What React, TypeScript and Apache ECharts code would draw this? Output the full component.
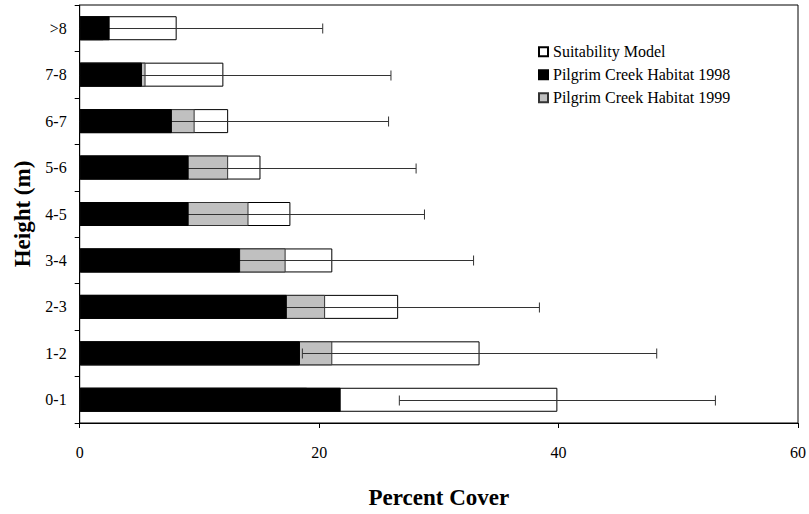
import React, { useEffect, useRef } from "react";
import * as echarts from "echarts";

const categories = ["0-1", "1-2", "2-3", "3-4", "4-5", "5-6", "6-7", "7-8", ">8"];
const suitabilityModel = [39.9, 33.4, 26.6, 21.1, 17.6, 15.1, 12.4, 12.0, 8.1];
const suitabilityError = [13.2, 14.8, 11.8, 11.8, 11.2, 13.0, 13.4, 14.0, 12.2];
const habitat1998 = [21.8, 18.4, 17.3, 13.4, 9.1, 9.1, 7.7, 5.2, 2.5];
const habitat1999 = [19.0, 21.1, 20.5, 17.2, 14.1, 12.4, 9.6, 5.5, 2.0];
const xTicks = [0, 20, 40, 60];

const FONT = "Liberation Serif";

export default function App() {
  const ref = useRef<HTMLDivElement>(null);

  useEffect(() => {
    if (!ref.current) return;
    const chart = echarts.init(ref.current, undefined, { renderer: "svg" });

    const errorData = categories.map((_, i) => [
      suitabilityModel[i] - suitabilityError[i],
      suitabilityModel[i] + suitabilityError[i],
      i,
    ]);

    chart.setOption({
      animation: false,
      backgroundColor: "#ffffff",
      grid: {
        left: 79.7,
        right: 9,
        top: 5,
        bottom: 85.7,
        show: true,
        borderColor: "#000",
        borderWidth: 1,
        containLabel: false,
      },
      legend: {
        orient: "vertical",
        left: 538,
        top: 43.7,
        padding: 0,
        icon: "rect",
        itemWidth: 9,
        itemHeight: 9,
        itemGap: 7,
        data: ["Suitability Model", "Pilgrim Creek Habitat 1998", "Pilgrim Creek Habitat 1999"],
        textStyle: { fontFamily: FONT, fontSize: 16, color: "#000", lineHeight: 16 },
        selectedMode: false,
      },
      xAxis: {
        type: "value",
        min: xTicks[0],
        max: xTicks[xTicks.length - 1],
        interval: 20,
        name: "Percent Cover",
        nameLocation: "middle",
        nameGap: 63,
        nameTextStyle: { fontFamily: FONT, fontSize: 23, fontWeight: "bold", color: "#000" },
        axisLine: { show: true, lineStyle: { color: "#000", width: 1 } },
        axisTick: { show: true, length: 5, lineStyle: { color: "#000" } },
        axisLabel: { fontFamily: FONT, fontSize: 16, color: "#000", margin: 21 },
        splitLine: { show: false },
      },
      yAxis: {
        type: "category",
        data: categories,
        name: "Height (m)",
        nameLocation: "middle",
        nameGap: 44,
        nameTextStyle: { fontFamily: FONT, fontSize: 23, fontWeight: "bold", color: "#000" },
        axisLine: { show: true, lineStyle: { color: "#000", width: 1 } },
        axisTick: { show: true, length: 5, lineStyle: { color: "#000" } },
        axisLabel: { fontFamily: FONT, fontSize: 16, color: "#000", margin: 13 },
        splitLine: { show: false },
      },
      series: [
        {
          name: "Suitability Model",
          type: "bar",
          data: suitabilityModel,
          barWidth: 24,
          barGap: "-100%",
          z: 2,
          itemStyle: { color: "#ffffff", borderColor: "#000", borderWidth: 1 },
        },
        {
          name: "Pilgrim Creek Habitat 1999",
          type: "bar",
          data: habitat1999,
          barWidth: 24,
          barGap: "-100%",
          z: 3,
          itemStyle: { color: "#c0c0c0", borderColor: "#333", borderWidth: 1 },
        },
        {
          name: "error",
          type: "custom",
          z: 4,
          clip: true,
          data: errorData,
          encode: { x: [0, 1], y: 2 },
          renderItem: (params: any, api: any) => {
            const idx = api.value(2);
            const lo = api.coord([api.value(0), idx]);
            const hi = api.coord([api.value(1), idx]);
            const x0 = params.coordSys.x;
            const y = Math.round(lo[1]) + 0.5;
            const h = 5;
            const style = { stroke: "#333", lineWidth: 1, fill: null };
            const children: any[] = [
              { type: "line", shape: { x1: Math.max(lo[0], x0), y1: y, x2: hi[0], y2: y }, style },
              { type: "line", shape: { x1: hi[0], y1: y - h, x2: hi[0], y2: y + h }, style },
            ];
            if (lo[0] >= x0) {
              children.push({ type: "line", shape: { x1: lo[0], y1: y - h, x2: lo[0], y2: y + h }, style });
            }
            return { type: "group", children };
          },
        },
        {
          name: "Pilgrim Creek Habitat 1998",
          type: "bar",
          data: habitat1998,
          barWidth: 24,
          barGap: "-100%",
          z: 5,
          itemStyle: { color: "#000000", borderColor: "#000", borderWidth: 1 },
        },
      ],
    });

    return () => chart.dispose();
  }, []);

  return (
    <div
      ref={ref}
      style={{ position: "fixed", left: 0, top: 0, width: 809, height: 514 }}
    />
  );
}
